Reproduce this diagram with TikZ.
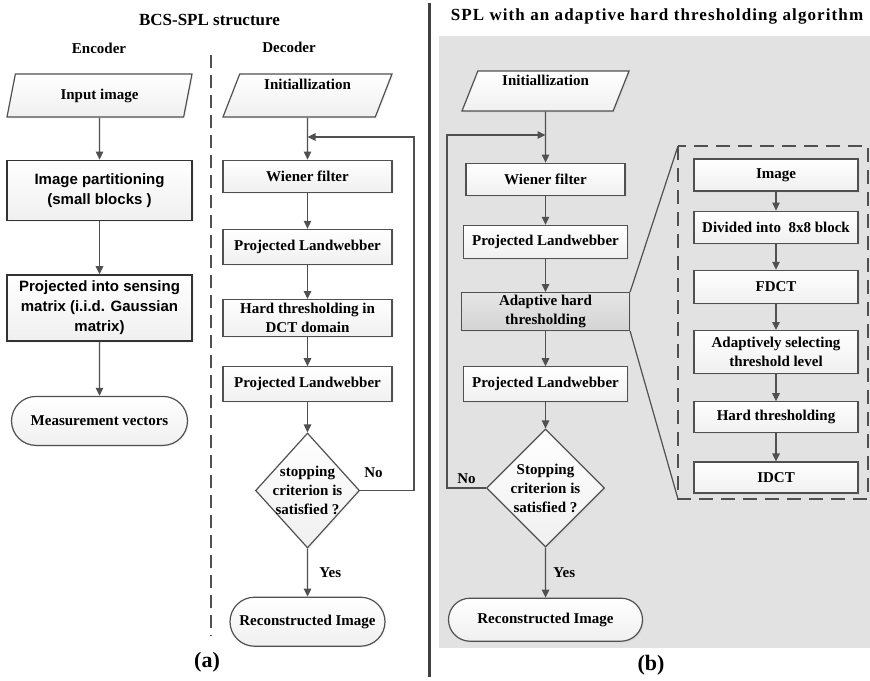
\documentclass[tikz,border=0pt]{standalone}
\usepackage{fontspec}
\setmainfont{Liberation Serif}
\setsansfont{Liberation Sans}
\usetikzlibrary{shapes.geometric,shapes.misc,arrows.meta,positioning,shadows}
\definecolor{linegray}{HTML}{505050}
\definecolor{panelgray}{HTML}{E2E2E2}
\tikzset{
  boxbase/.style = {draw=linegray, line width=1.2pt, font=\fontsize{15}{19}\selectfont\bfseries, align=center, top color=white, bottom color=gray!12, drop shadow={opacity=0.08, shadow xshift=1.5pt, shadow yshift=-1.5pt}},
  io/.style = {boxbase, trapezium, trapezium left angle=67, trapezium right angle=113, trapezium stretches body, minimum height=43pt, inner sep=3pt},
  proc/.style = {boxbase, rectangle, inner sep=1pt},
  enc/.style = {proc, draw=black!80, line width=1.6pt, font=\fontsize{15}{20}\selectfont\sffamily\bfseries, minimum width=185pt},
  term/.style = {boxbase, rounded rectangle, inner sep=2pt},
  cond/.style = {boxbase, diamond, inner sep=0pt},
  hot/.style = {top color=gray!20, bottom color=gray!34},
  arrow/.style = {draw=linegray, line width=1.2pt, -{Triangle[length=8pt,width=7.5pt]}},
  back/.style = {draw=linegray, line width=1.2pt},
  lbl/.style = {font=\fontsize{15}{19}\selectfont\bfseries}
}

\begin{document}
\begin{tikzpicture}[x=1pt,y=1pt]
  \useasboundingbox (0,0) rectangle (870,-680);
  % shaded panel and separators
  \fill[panelgray] (439,-36) rectangle (870,-648);
  \draw[linegray, line width=1.5pt, dash pattern=on 13pt off 7pt] (211,-55) -- (211,-636);
  \draw[black!75, line width=3pt] (429,-3) -- (429,-677);

  % headings
  \node[font=\fontsize{17}{20}\selectfont\bfseries] (titleA) at (209.5,-20) {BCS-SPL structure};
  \node[lbl] (encT) at (99,-48) {Encoder};
  \node[lbl] (decT) at (289,-47) {Decoder};
  \node[font=\fontsize{17}{20}\selectfont\bfseries\addfontfeature{LetterSpace=6.5}] (titleB) at (657,-16) {SPL with an adaptive hard thresholding algorithm};
  \node[font=\fontsize{22}{24}\selectfont\bfseries] (capA) at (207,-662) {(a)};
  \node[font=\fontsize{22}{24}\selectfont\bfseries] (capB) at (651,-665) {(b)};

  % encoder
  \node[io, minimum width=185pt] (input) at (99.5,-95.5) {Input image};
  \node[enc, minimum height=60pt, below=42pt of input] (part) {Image partitioning\\(small blocks )};
  \node[enc, minimum height=66pt, below=53pt of part] (sense) {Projected into sensing\\matrix (i.i.d. Gaussian\\matrix)};
  \node[term, minimum width=180pt, minimum height=49pt, below=54pt of sense] (meas) {Measurement vectors};
  \draw[arrow] (input) -- (part);
  \draw[arrow] (part) -- (sense);
  \draw[arrow] (sense) -- (meas);

  % decoder
  \node[io, minimum width=169pt, text depth=23pt] (init) at (307.5,-95.5) {Initiallization};
  \node[proc, minimum width=169pt, minimum height=32pt, below=42pt of init] (wien) {Wiener filter};
  \node[proc, minimum width=169pt, minimum height=35pt, below=36pt of wien] (land) {Projected Landwebber};
  \node[proc, minimum width=169pt, minimum height=37pt, below=34pt of land] (hard) {Hard thresholding in\\DCT domain};
  \node[proc, minimum width=169pt, minimum height=35pt, below=29pt of hard] (landB) {Projected Landwebber};
  \node[cond, minimum width=104pt, minimum height=115pt, below=30pt of landB,
        label={[lbl, align=center]center:stopping\\criterion is\\satisfied ?}] (stop) {};
  \node[term, minimum width=159pt, minimum height=49pt, below=48pt of stop] (rec) {Reconstructed Image};
  \draw[arrow] (init) -- (wien);
  \draw[arrow] (wien) -- (land);
  \draw[arrow] (land) -- (hard);
  \draw[arrow] (hard) -- (landB);
  \draw[arrow] (landB) -- (stop);
  \draw[arrow] (stop) -- node[lbl, right=8pt] {Yes} (rec);
  \coordinate (backA) at (414,-137);
  \draw[arrow] (stop.east) -- node[lbl, above=9pt, pos=0.25] {No} (stop.east -| backA)
    -- (backA) -- (backA -| init.south);

  % adaptive variant
  \node[io, minimum width=167pt, minimum height=40pt, text depth=21pt] (initB) at (545.5,-91) {Initiallization};
  \node[proc, minimum width=159pt, minimum height=32pt, below=51pt of initB] (wienB) {Wiener filter};
  \node[proc, minimum width=164pt, minimum height=33pt, below=29pt of wienB] (landC) {Projected Landwebber};
  \node[proc, hot, minimum width=168pt, minimum height=38pt, below=33pt of landC] (adapt) {Adaptive hard\\thresholding};
  \node[proc, minimum width=164pt, minimum height=35pt, below=35pt of adapt] (landD) {Projected Landwebber};
  \node[cond, minimum width=118pt, minimum height=118pt, below=26pt of landD,
        label={[lbl, align=center]center:Stopping\\criterion is\\satisfied ?}] (stopB) {};
  \node[term, minimum width=198pt, minimum height=43pt, below=50pt of stopB] (recB) {Reconstructed Image};
  \draw[arrow] (initB) -- (wienB);
  \draw[arrow] (wienB) -- (landC);
  \draw[arrow] (landC) -- (adapt);
  \draw[arrow] (adapt) -- (landD);
  \draw[arrow] (landD) -- (stopB);
  \draw[arrow] (stopB) -- node[lbl, right=4pt] {Yes} (recB);
  \coordinate (backB) at (447,-135);
  \draw[arrow] (stopB.west) -- node[lbl, above, pos=0.5] {No} (stopB.west -| backB)
    -- (backB) -- (backB -| initB.south);

  % detail of the adaptive step
  \node[proc, minimum width=164pt, minimum height=32pt] (img) at (776,-175) {Image};
  \node[proc, minimum width=164pt, minimum height=32pt, below=19pt of img] (blk) {Divided into\ \ 8x8 block};
  \node[proc, minimum width=164pt, minimum height=33pt, below=26pt of blk] (fdct) {FDCT};
  \node[proc, minimum width=164pt, minimum height=43pt, below=26pt of fdct] (sel) {Adaptively selecting\\threshold level};
  \node[proc, minimum width=164pt, minimum height=31pt, below=27pt of sel] (thr) {Hard thresholding};
  \node[proc, minimum width=164pt, minimum height=31pt, below=28pt of thr] (idct) {IDCT};
  \draw[arrow] (img) -- (blk);
  \draw[arrow] (blk) -- (fdct);
  \draw[arrow] (fdct) -- (sel);
  \draw[arrow] (sel) -- (thr);
  \draw[arrow] (thr) -- (idct);
  \coordinate (zoomNW) at (678,-146);
  \coordinate (zoomSE) at (868,-499);
  \draw[linegray, line width=1.8pt, dash pattern=on 14pt off 8pt] (zoomNW) rectangle (zoomSE);
  \draw[back] (adapt.north east) -- (zoomNW);
  \draw[back] (adapt.south east) -- (zoomNW |- zoomSE);
\end{tikzpicture}
\end{document}
